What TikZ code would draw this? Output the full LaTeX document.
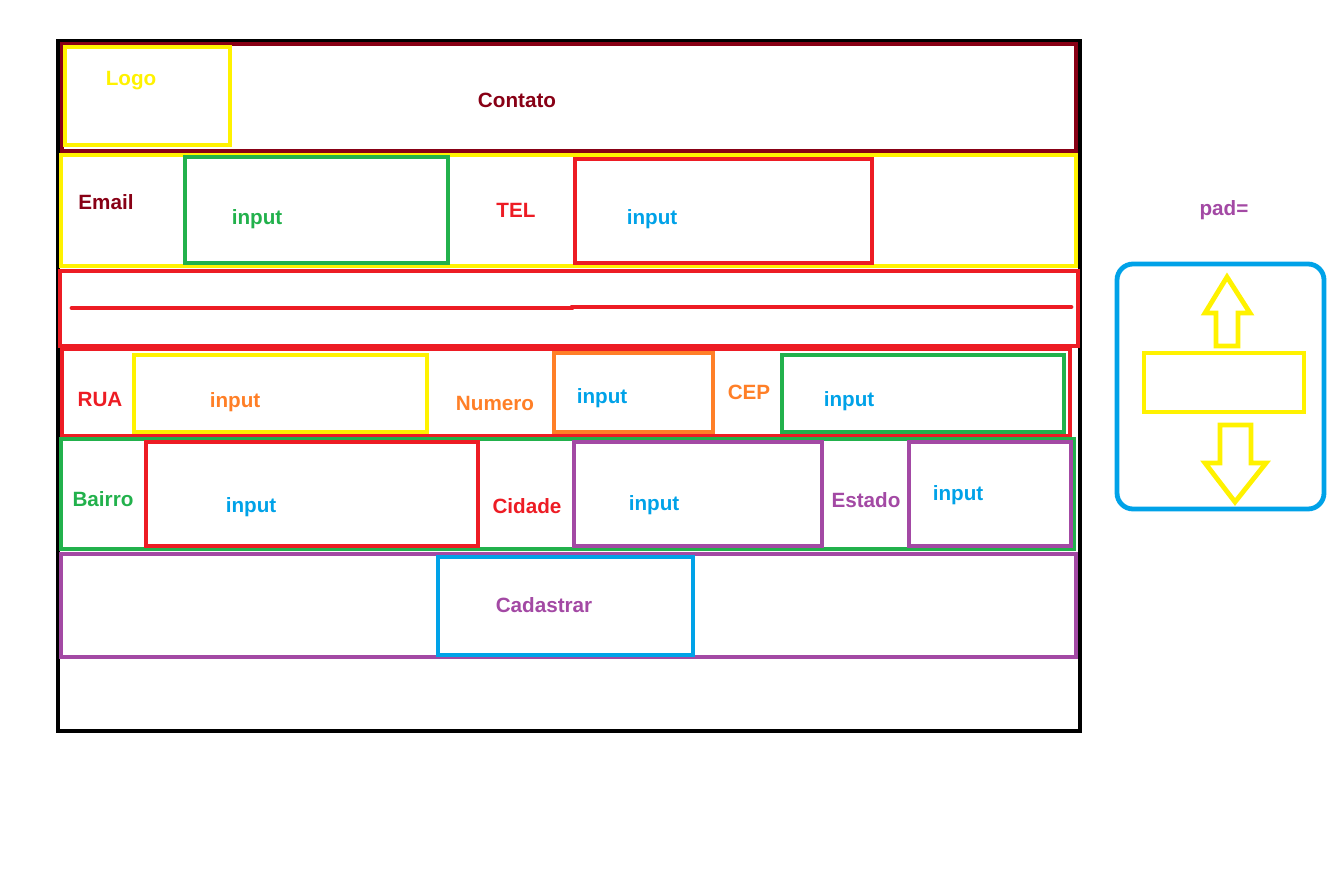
\documentclass[tikz,border=0pt]{standalone}
\usepackage{fontspec}
\setmainfont{Liberation Sans}
\usetikzlibrary{positioning}
\definecolor{vinho}{HTML}{880015}
\definecolor{amarelo}{HTML}{FFF200}
\definecolor{verde}{HTML}{22B14C}
\definecolor{vermelho}{HTML}{ED1C24}
\definecolor{laranja}{HTML}{FF7F27}
\definecolor{azul}{HTML}{00A2E8}
\definecolor{roxo}{HTML}{A349A4}
\tikzset{caixa/.style={draw, line width=3.6pt},
         rotulo/.style={font=\fontsize{15.5}{18}\selectfont\bfseries, inner sep=0pt}}
\begin{document}
\begin{tikzpicture}[x=0.75pt, y=-0.75pt]
    \useasboundingbox (0,0) rectangle (1334,871);

    % moldura
    \draw[line width=3pt] (58,41) rectangle (1080,731);

    % cabecalho
    \draw[caixa, vinho] (62,44) rectangle (1076,151);
    \draw[caixa, amarelo] (65,47) rectangle (230,145);
    \node[rotulo, amarelo] (logo) at (131,81) {Logo};
    \node[rotulo, vinho] (contato) at (517,100) {Contato};

    % email / tel
    \draw[caixa, amarelo] (61,155) rectangle (1076,266);
    \draw[caixa, verde] (185,157) rectangle (448,263);
    \draw[caixa, vermelho] (575,159) rectangle (872,263);
    \node[rotulo, vinho] (email) at (106,202) {Email};
    \node[rotulo, verde] (inemail) at (257,219) {input};
    \node[rotulo, vermelho] (tel) at (516,210) {TEL};
    \node[rotulo, azul] (intel) at (652,219) {input};

    % separador
    \draw[caixa, vermelho] (60,271) rectangle (1078,346);
    \draw[vermelho, line width=3.6pt, line cap=round] (72,308) -- (572,308);
    \draw[vermelho, line width=3.6pt, line cap=round] (572,307) -- (1071,307);

    % rua / numero / cep
    \draw[caixa, vermelho] (62,349) rectangle (1070,436);
    \draw[caixa, amarelo] (134,355) rectangle (427,432);
    \draw[caixa, laranja] (554,353) rectangle (713,432);
    \draw[caixa, verde] (782,355) rectangle (1064,432);
    \node[rotulo, vermelho] (rua) at (100,399) {RUA};
    \node[rotulo, laranja] (inrua) at (235,402) {input};
    \node[rotulo, laranja] (numero) at (495,403) {Numero};
    \node[rotulo, azul] (innumero) at (602,398) {input};
    \node[rotulo, laranja] (cep) at (749,392) {CEP};
    \node[rotulo, azul] (incep) at (849,401) {input};

    % bairro / cidade / estado
    \draw[caixa, verde] (61,439) rectangle (1074,549);
    \draw[caixa, vermelho] (146,442) rectangle (478,546);
    \draw[caixa, roxo] (574,442) rectangle (822,546);
    \draw[caixa, roxo] (909,442) rectangle (1071,546);
    \node[rotulo, verde] (bairro) at (103,499) {Bairro};
    \node[rotulo, azul] (inbairro) at (251,507) {input};
    \node[rotulo, vermelho] (cidade) at (527,506) {Cidade};
    \node[rotulo, azul] (incidade) at (654,505) {input};
    \node[rotulo, roxo] (estado) at (866,500) {Estado};
    \node[rotulo, azul] (inestado) at (958,495) {input};

    % botao
    \draw[caixa, roxo] (61,554) rectangle (1076,657);
    \draw[caixa, azul] (438,557) rectangle (693,655);
    \node[rotulo, roxo] (cadastrar) at (544,605) {Cadastrar};

    % legenda padding
    \node[rotulo, roxo] (pad) at (1224,210) {pad=};
    \draw[caixa, azul, rounded corners=12pt] (1117,264) rectangle (1324,509);
    \draw[caixa, amarelo] (1144,353) rectangle (1304,412);
    \draw[amarelo, line width=3.6pt, line join=miter]
        (1227,277) -- (1250,313) -- (1238,313) -- (1238,346) -- (1216,346)
        -- (1216,313) -- (1205,313) -- cycle;
    \draw[amarelo, line width=3.6pt, line join=miter]
        (1220,425) -- (1251,425) -- (1251,463) -- (1266,463) -- (1235,502)
        -- (1205,463) -- (1220,463) -- cycle;
\end{tikzpicture}
\end{document}
